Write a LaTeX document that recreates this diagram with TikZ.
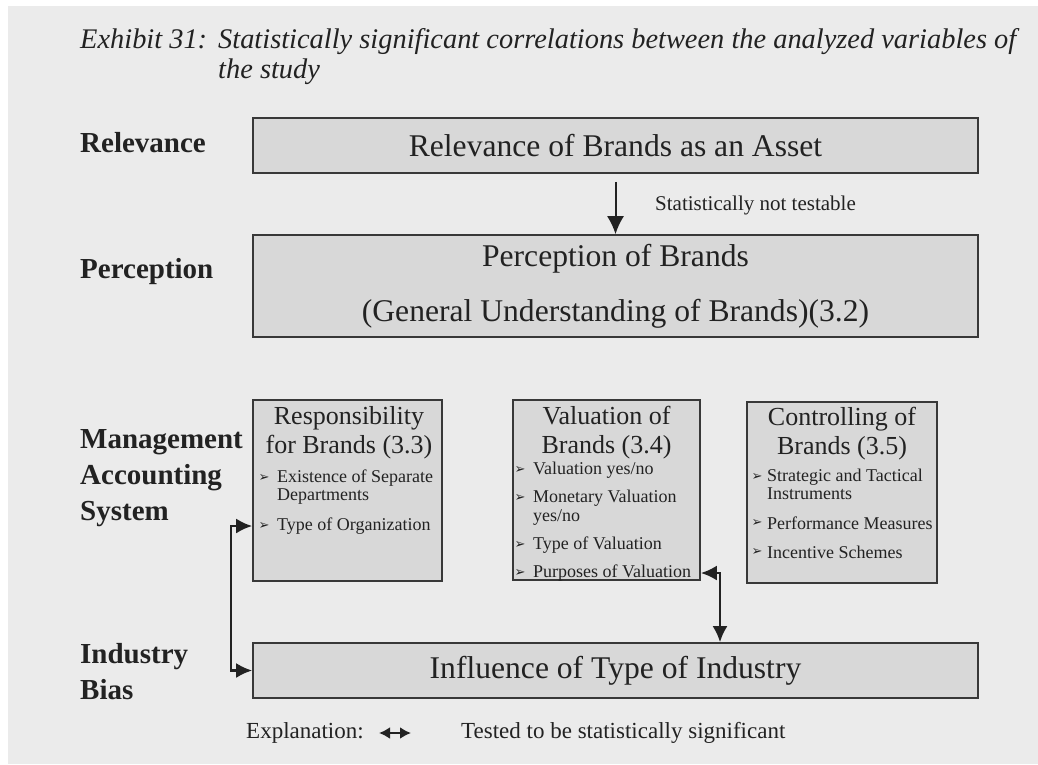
\documentclass[tikz,border=0pt]{standalone}
\usepackage{fontspec}
\setmainfont{Liberation Serif}
\newfontfamily\symfont{DejaVu Sans}
\usetikzlibrary{positioning, arrows.meta}

\definecolor{paper}{HTML}{EBEBEB}
\definecolor{boxfill}{HTML}{D8D8D8}
\definecolor{ink}{HTML}{222222}

\tikzset{
    bigtip/.tip={Latex[length=18pt, width=17pt]},
    sigtip/.tip={Latex[length=16pt, width=15pt]},
    legtip/.tip={Latex[length=11pt, width=12pt]}
}

\begin{document}
\begin{tikzpicture}[x=1pt, y=-1pt, text=ink,
    bigbox/.style={draw=ink!90, line width=1.6pt, fill=boxfill, inner sep=0pt, align=center,
        font=\fontsize{31.6}{55}\selectfont},
    smallbox/.style={draw=ink!90, line width=1.6pt, fill=boxfill, inner sep=0pt},
    boxtitle/.style={align=center, inner sep=0pt, font=\fontsize{26}{29}\selectfont},
    rowlabel/.style={anchor=west, align=left, inner sep=0pt, font=\fontsize{29}{36}\selectfont\bfseries},
    item/.style={anchor=west, inner sep=0pt, font=\fontsize{18}{20}\selectfont},
    bulletmark/.style={inner sep=0pt, font=\symfont\fontsize{13}{13}\selectfont},
    titletext/.style={anchor=base west, inner sep=0pt, font=\fontsize{28.4}{30}\selectfont\itshape},
    flow/.style={-bigtip, line width=2pt, draw=ink},
    sig/.style={sigtip-sigtip, line width=2.6pt, draw=ink}]

    % Papier
    \useasboundingbox (0,0) rectangle (1038,764);
    \fill[white] (0,0) rectangle (1038,764);
    \fill[paper] (8,6) rectangle (1038,764);

    % 1. Titulek
    \node[titletext] (exhibit) at (80,48) {Exhibit 31:};
    \node[titletext] (caption1) at (218,48) {Statistically significant correlations between the analyzed variables of};
    \node[titletext] (caption2) at (218,78) {the study};

    % 2. Popisky rovin vlevo
    \node[rowlabel] (lrel) at (80,143) {Relevance};
    \node[rowlabel] (lper) at (80,272) {Perception};
    \node[rowlabel] (lmas) at (80,478) {Management\\Accounting\\System};
    \node[rowlabel] (lind) at (80,672) {Industry\\Bias};

    % 3. Velké boxy
    \node[bigbox, minimum width=725pt, minimum height=55pt] (relevance) at (615.5,145.5)
        {Relevance of Brands as an Asset};
    \node[bigbox, minimum width=725pt, minimum height=102pt] (perception) at (615.5,286)
        {Perception of Brands\\(General Understanding of Brands)(3.2)};
    \node[bigbox, minimum width=725pt, minimum height=55pt] (industry) at (615.5,670.5)
        {Influence of Type of Industry};

    \draw[flow, shorten <=8pt] (relevance) -- (perception);
    \node[anchor=west, inner sep=0pt, font=\fontsize{21}{24}\selectfont] (nottest) at (655,205)
        {Statistically not testable};

    % 4. Boxy účetního systému
    \node[smallbox, minimum width=189pt, minimum height=181pt] (resp) at (347.5,490.5) {};
    \node[smallbox, minimum width=187pt, minimum height=180pt] (valuation) at (606.5,490) {};
    \node[smallbox, minimum width=190pt, minimum height=181pt] (controlling) at (842,492.5) {};

    \node[boxtitle] (resptitle) at (349,432.5) {Responsibility\\for Brands (3.3)};
    \node[boxtitle] (valtitle) at (606.5,432.5) {Valuation of\\Brands (3.4)};
    \node[boxtitle] (ctrltitle) at (842,434) {Controlling of\\Brands (3.5)};

    % odrážky
    \foreach \y/\b/\t [count=\i] in {478/1/Existence of Separate, 497/0/Departments, 526/1/Type of Organization} {
        \node[item] (resp\i) at (277,\y) {\t};
        \ifnum\b=1 \node[bulletmark] (respb\i) at (264,\y) {➢}; \fi
    }
    \foreach \y/\b/\t [count=\i] in {470/1/{Valuation yes/no}, 498/1/Monetary Valuation, 517/0/{yes/no},
        545/1/Type of Valuation, 573/1/Purposes of Valuation} {
        \node[item] (val\i) at (533,\y) {\t};
        \ifnum\b=1 \node[bulletmark] (valb\i) at (520,\y) {➢}; \fi
    }
    \foreach \y/\b/\t [count=\i] in {477/1/Strategic and Tactical, 494/0/Instruments,
        523/1/Performance Measures, 552/1/Incentive Schemes} {
        \node[item] (ctrl\i) at (767,\y) {\t};
        \ifnum\b=1 \node[bulletmark] (ctrlb\i) at (757,\y) {➢}; \fi
    }

    % 5. Signifikantní vazby
    \coordinate (leftrail) at (231,0);
    \coordinate (valdrop) at (720,0);
    \draw[sig] (resp.west |- resp3) -| (leftrail |- industry) -- (industry.west);
    \draw[sig] (valuation.east |- val5) -| (valdrop |- industry.north);

    % Legenda
    \node[anchor=west, inner sep=0pt, font=\fontsize{23}{26}\selectfont] (explan) at (246,733) {Explanation:};
    \coordinate (legl) at (379,733);
    \coordinate (legr) at (411,733);
    \draw[legtip-legtip, line width=2.4pt, draw=ink] (legl) -- (legr);
    \node[anchor=west, inner sep=0pt, font=\fontsize{23}{26}\selectfont] (tested) at (461,733)
        {Tested to be statistically significant};

\end{tikzpicture}
\end{document}
